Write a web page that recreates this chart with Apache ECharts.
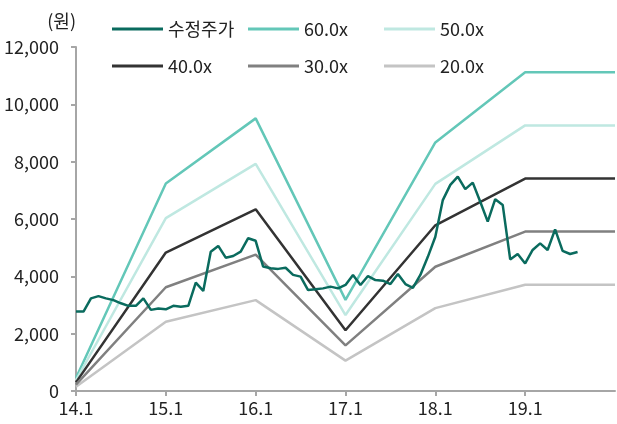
<!DOCTYPE html>
<html>
<head>
	<meta charset="utf-8" />
	<title>PER band</title>
	<script type="text/javascript" src="https://cdn.jsdelivr.net/npm/echarts@6/dist/echarts.min.js"></script>
	<style>
		html, body {margin:0;padding:0;background:#fff;}
		#chart {width:617px;height:424px;}
	</style>
</head>
<body>
	<div id="chart"></div>
	<script>
		// 월별 카테고리 14.1 ~ 20.1
		var months = [];
		for (var y = 14; y <= 20; y++) {
			for (var m = 1; m <= 12; m++) {
				if (y == 20 && m > 1) break;
				months.push(y + '.' + m);
			}
		}
		var tickLabels = ['14.1', '15.1', '16.1', '17.1', '18.1', '19.1'];

		// 수정주가 (월말)
		var price = [2770, 2770, 3230, 3310, 3230, 3170, 3060, 2970, 2970, 3230,
			2830, 2880, 2850, 2970, 2940, 2970, 3780, 3490, 4860, 5060,
			4650, 4710, 4860, 5330, 5240, 4340, 4280, 4260, 4300, 4050,
			3990, 3520, 3550, 3580, 3640, 3580, 3700, 4050, 3700, 4010,
			3870, 3850, 3730, 4080, 3730, 3600, 4050, 4680, 5380, 6660,
			7190, 7480, 7040, 7270, 6600, 5910, 6690, 6490, 4590, 4780,
			4450, 4920, 5150, 4920, 5640, 4890, 4780, 4850];

		// PER 밴드 꺾임점
		var bandAt = ['14.1', '15.1', '16.1', '17.1', '18.1', '19.1', '20.1'];
		var per60 = [450, 7240, 9510, 3180, 8670, 11120, 11120];
		var per50 = [375, 6030, 7925, 2650, 7225, 9265, 9265];
		var per40 = [300, 4830, 6340, 2120, 5780, 7410, 7410];
		var per30 = [225, 3620, 4755, 1590, 4335, 5560, 5560];
		var per20 = [150, 2415, 3170, 1060, 2890, 3705, 3705];

		var font = '"Noto Sans CJK KR", "Noto Sans", sans-serif';

		function band(vals) {
			return vals.map((v, i) => [bandAt[i], v]);
		}

		function line(name, data, color, width, z) {
			return {
				name: name,
				type: 'line',
				data: data,
				symbol: 'none',
				z: z,
				lineStyle: {color: color, width: width},
				itemStyle: {color: color}
			};
		}

		// 범례: 열 단위로 배치
		function legendCol(left, names) {
			return {
				left: left,
				top: 20,
				orient: 'vertical',
				padding: 0,
				itemWidth: 51,
				itemHeight: 3,
				itemGap: 19,
				icon: 'rect',
				textStyle: {fontFamily: font, fontSize: 18, color: '#222'},
				data: names
			};
		}

		var chart = echarts.init(document.getElementById('chart'));

		chart.setOption({
			animation: false,
			textStyle: {fontFamily: font},
			grid: {left: 76, right: 2, top: 47, bottom: 33},
			legend: [
				legendCol(112, ['수정주가', '40.0x']),
				legendCol(248, ['60.0x', '30.0x']),
				legendCol(384, ['50.0x', '20.0x'])
			],
			xAxis: {
				type: 'category',
				data: months,
				boundaryGap: false,
				axisLine: {lineStyle: {color: '#a6a6a6', width: 2}},
				axisTick: {
					length: 5,
					lineStyle: {color: '#a6a6a6', width: 2},
					interval: (i, v) => tickLabels.indexOf(v) >= 0
				},
				axisLabel: {
					margin: 8,
					fontSize: 18,
					color: '#222',
					interval: (i, v) => tickLabels.indexOf(v) >= 0
				},
				splitLine: {show: false}
			},
			yAxis: {
				type: 'value',
				min: 0,
				max: 12000,
				interval: 2000,
				name: '(원)',
				nameLocation: 'end',
				nameGap: 17,
				nameTextStyle: {fontSize: 18, color: '#222', align: 'right'},
				axisLine: {show: true, lineStyle: {color: '#a6a6a6', width: 2}},
				axisTick: {show: true, length: 5, lineStyle: {color: '#a6a6a6', width: 2}},
				axisLabel: {
					margin: 17,
					fontSize: 18,
					color: '#222',
					formatter: v => v.toLocaleString('en-US')
				},
				splitLine: {show: false}
			},
			series: [
				line('수정주가', price, '#0a6b5e', 2.5, 10),
				line('60.0x', band(per60), '#63c7b8', 2.5, 2),
				line('50.0x', band(per50), '#bfe8e1', 2.5, 2),
				line('40.0x', band(per40), '#333333', 2.5, 3),
				line('30.0x', band(per30), '#808080', 2.5, 3),
				line('20.0x', band(per20), '#c4c4c4', 2.5, 2)
			]
		});
	</script>
</body>
</html>
